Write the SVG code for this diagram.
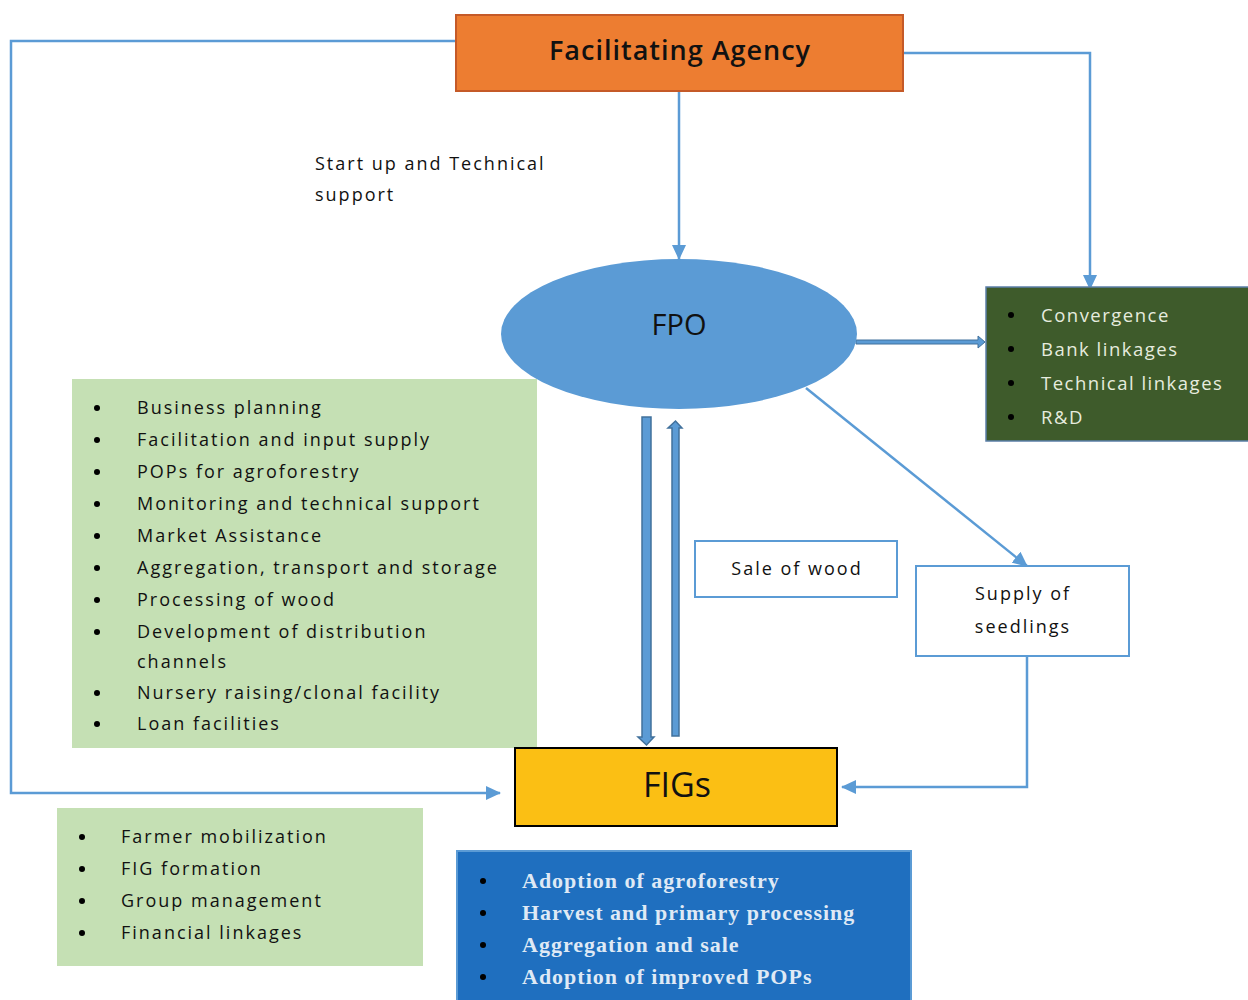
<svg xmlns="http://www.w3.org/2000/svg" width="1248" height="1000" viewBox="0 0 1248 1000">
<style>
.t{font-family:"Open Sans","Liberation Sans",sans-serif;fill:#111;}
.li{font-family:"Open Sans","Liberation Sans",sans-serif;font-size:18px;letter-spacing:2px;fill:#111;}
.lw{font-family:"Open Sans","Liberation Sans",sans-serif;font-size:18.5px;letter-spacing:1.5px;fill:#e6ecdf;}
.ls{font-family:"Liberation Serif","DejaVu Serif",serif;font-size:22px;letter-spacing:1px;font-weight:bold;fill:#dfe9f5;}
.bul{fill:#000;}
.con{fill:none;stroke:#5B9BD5;stroke-width:2.5;}
</style>
<defs>
<marker id="ah" markerUnits="userSpaceOnUse" markerWidth="16" markerHeight="14" refX="14" refY="7" orient="auto">
<path d="M0,0 L15,7 L0,14 Z" fill="#5B9BD5"/>
</marker>
</defs>

<g id="connectors">
<polyline class="con" points="456,41 11,41 11,793 500,793" marker-end="url(#ah)"/>
<polyline class="con" points="903,53 1090,53 1090,289" marker-end="url(#ah)"/>
<line class="con" x1="679" y1="91" x2="679" y2="259" marker-end="url(#ah)"/>
<polygon points="856,340 978,340 978,336 985,342 978,348 978,344 856,344" fill="#5B9BD5" stroke="#41719C" stroke-width="1"/>
<polygon points="642,417 651,417 651,737 654,737 646.5,745 638,737 642,737" fill="#5B9BD5" stroke="#41719C" stroke-width="1.5"/>
<polygon points="672,736 679,736 679,428 682,428 675.5,421 668,428 672,428" fill="#5B9BD5" stroke="#41719C" stroke-width="1.5"/>
<line class="con" x1="806" y1="388" x2="1027" y2="566" marker-end="url(#ah)"/>
<polyline class="con" points="1027,656 1027,787 842,787" marker-end="url(#ah)"/>
</g>

<g id="facilitating-agency">
<rect x="456" y="15" width="447" height="76" fill="#ED7D31" stroke="#C55A28" stroke-width="2"/>
<text class="t" x="680" y="60" font-size="27" font-weight="600" letter-spacing="1" text-anchor="middle">Facilitating Agency</text>
</g>

<g id="startup-label">
<text class="li" x="315" y="170">Start up and Technical</text>
<text class="li" x="315" y="201">support</text>
</g>

<g id="fpo">
<ellipse cx="679" cy="334" rx="178" ry="75" fill="#5B9BD5"/>
<text class="t" x="679" y="335" font-size="29" text-anchor="middle">FPO</text>
</g>

<g id="fpo-links">
<rect x="986" y="287" width="263" height="154" fill="#3E5B2B" stroke="#5B7FA8" stroke-width="1.5"/>
<circle class="bul" cx="1011" cy="315" r="3"/>
<circle class="bul" cx="1011" cy="349" r="3"/>
<circle class="bul" cx="1011" cy="383" r="3"/>
<circle class="bul" cx="1011" cy="417" r="3"/>
<text class="lw" x="1041" y="322">Convergence</text>
<text class="lw" x="1041" y="356">Bank linkages</text>
<text class="lw" x="1041" y="390">Technical linkages</text>
<text class="lw" x="1041" y="424">R&amp;D</text>
</g>

<g id="fpo-services">
<rect x="72" y="379" width="465" height="369" fill="#C5E0B4"/>
<g class="bul">
<circle cx="97" cy="408" r="3"/>
<circle cx="97" cy="440" r="3"/>
<circle cx="97" cy="472" r="3"/>
<circle cx="97" cy="504" r="3"/>
<circle cx="97" cy="536" r="3"/>
<circle cx="97" cy="568" r="3"/>
<circle cx="97" cy="600" r="3"/>
<circle cx="97" cy="632" r="3"/>
<circle cx="97" cy="693" r="3"/>
<circle cx="97" cy="724" r="3"/>
</g>
<text class="li" x="137" y="414">Business planning</text>
<text class="li" x="137" y="446">Facilitation and input supply</text>
<text class="li" x="137" y="478">POPs for agroforestry</text>
<text class="li" x="137" y="510">Monitoring and technical support</text>
<text class="li" x="137" y="542">Market Assistance</text>
<text class="li" x="137" y="574">Aggregation, transport and storage</text>
<text class="li" x="137" y="606">Processing of wood</text>
<text class="li" x="137" y="638">Development of distribution</text>
<text class="li" x="137" y="668">channels</text>
<text class="li" x="137" y="699">Nursery raising/clonal facility</text>
<text class="li" x="137" y="730">Loan facilities</text>
</g>

<g id="sale-of-wood">
<rect x="695" y="541" width="202" height="56" fill="#fff" stroke="#5B9BD5" stroke-width="2"/>
<text class="li" x="797" y="575" text-anchor="middle">Sale of wood</text>
</g>

<g id="supply-of-seedlings">
<rect x="916" y="566" width="213" height="90" fill="#fff" stroke="#5B9BD5" stroke-width="2"/>
<text class="li" x="1023" y="600" text-anchor="middle">Supply of</text>
<text class="li" x="1023" y="633" text-anchor="middle">seedlings</text>
</g>

<g id="figs">
<rect x="515" y="748" width="322" height="78" fill="#FBBF14" stroke="#000" stroke-width="2"/>
<text class="t" x="677" y="797" font-size="34" text-anchor="middle">FIGs</text>
</g>

<g id="figs-services">
<rect x="57" y="808" width="366" height="158" fill="#C5E0B4"/>
<g class="bul">
<circle cx="82" cy="837" r="3"/>
<circle cx="82" cy="869" r="3"/>
<circle cx="82" cy="901" r="3"/>
<circle cx="82" cy="933" r="3"/>
</g>
<text class="li" x="121" y="843">Farmer mobilization</text>
<text class="li" x="121" y="875">FIG formation</text>
<text class="li" x="121" y="907">Group management</text>
<text class="li" x="121" y="939">Financial linkages</text>
</g>

<g id="figs-activities">
<rect x="457" y="851" width="454" height="152" fill="#1F6FBF" stroke="#5B9BD5" stroke-width="2"/>
<g class="bul">
<circle cx="483" cy="881" r="3"/>
<circle cx="483" cy="913" r="3"/>
<circle cx="483" cy="945" r="3"/>
<circle cx="483" cy="977" r="3"/>
</g>
<text class="ls" x="522" y="888">Adoption of agroforestry</text>
<text class="ls" x="522" y="920">Harvest and primary processing</text>
<text class="ls" x="522" y="952">Aggregation and sale</text>
<text class="ls" x="522" y="984">Adoption of improved POPs</text>
</g>
</svg>
